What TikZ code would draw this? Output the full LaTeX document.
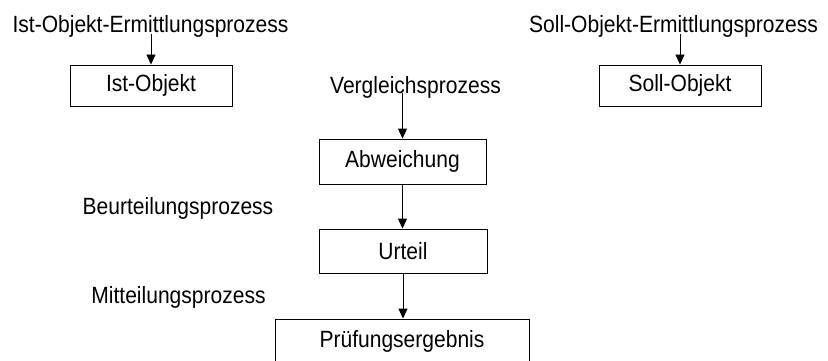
\documentclass[tikz,border=0pt]{standalone}
\usepackage{fontspec}
\setmainfont{Liberation Sans}[FakeStretch=0.895]
\usetikzlibrary{arrows.meta}
\begin{document}
\begin{tikzpicture}[x=1pt,y=-1pt,
  lbl/.style={font=\fontsize{23.5}{28}\selectfont, inner sep=0pt, anchor=base},
  box/.style={draw, line width=0.9pt, font=\fontsize{23.5}{28}\selectfont,
              inner sep=0pt, minimum width=#1, minimum height=42pt},
  flow/.style={line width=0.9pt, -{Triangle[width=9pt,length=10pt]}}]
  \useasboundingbox (0,0) rectangle (828,361);
  \clip (0,0) rectangle (828,361);

  % process labels
  \node[lbl] (istproc)  at (150.5,33)  {Ist-Objekt-Ermittlungsprozess};
  \node[lbl] (sollproc) at (673.5,33)  {Soll-Objekt-Ermittlungsprozess};
  \node[lbl] (vglproc)  at (415.5,93)  {Vergleichsprozess};
  \node[lbl] (beurproc) at (178,214)   {Beurteilungsprozess};
  \node[lbl] (mittproc) at (178.5,303) {Mitteilungsprozess};

  % result boxes
  \node[box=162pt, minimum height=41pt] (ist)  at (151,85.5)  {Ist-Objekt};
  \node[box=162pt, minimum height=41pt] (soll) at (680,85.5)  {Soll-Objekt};
  \node[box=167pt, minimum height=45pt] (abw)  at (402.5,161.5) {Abweichung};
  \node[box=168pt, minimum height=44pt] (urt)  at (403,251)   {Urteil};
  \node[box=254pt, minimum height=44pt] (pruef) at (402,341)  {Prüfungsergebnis};

  % connectors
  \draw[flow] ([yshift=-1pt]istproc.base -| ist.north) -- (ist.north);
  \draw[flow] ([yshift=-1pt]sollproc.base -| soll.north) -- (soll.north);
  \draw[flow] ([yshift=0pt]vglproc.base -| abw.north) -- (abw.north);
  \draw[flow] (abw.south) -- (abw.south |- urt.north);
  \draw[flow] (urt.south) -- (urt.south |- pruef.north);
\end{tikzpicture}
\end{document}
